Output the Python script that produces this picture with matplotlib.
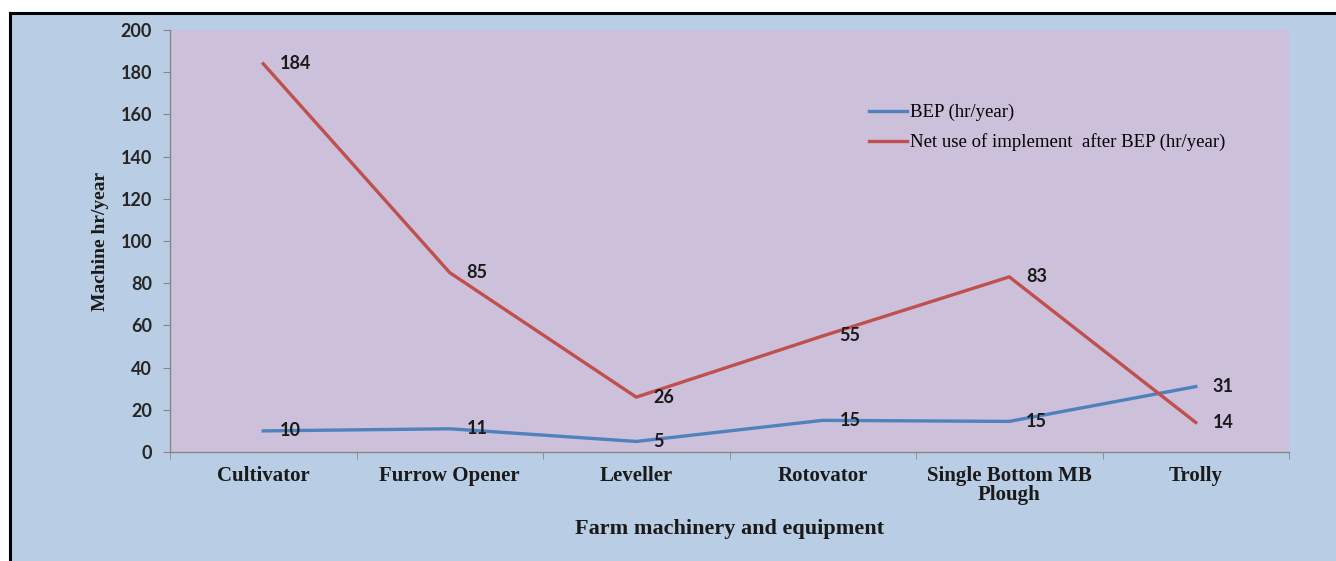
import matplotlib.pyplot as plt
from matplotlib.lines import Line2D
from matplotlib.patches import Rectangle

categories = ["Cultivator", "Furrow Opener", "Leveller", "Rotovator",
              "Single Bottom MB\nPlough", "Trolly"]
bep = [10, 11, 5, 15, 14.5, 31]
net_use = [184, 85, 26, 55, 83, 14]
bep_labels = ["10", "11", "5", "15", "15", "31"]
net_labels = ["184", "85", "26", "55", "83", "14"]

OUTER = "#b9cde5"
PLOT_BG = "#ccc0da"
BLUE = "#4f81bd"
RED = "#c0504d"

fig = plt.figure(figsize=(13.36, 5.61), dpi=100, facecolor="white")
# blue chart area with black frame on top and left
fig.patches.append(Rectangle((10 / 1336, 0), 1 - 10 / 1336, 1 - 13 / 561,
                             transform=fig.transFigure, facecolor=OUTER,
                             edgecolor="none", zorder=-10))
fig.lines.append(Line2D([10 / 1336, 1], [1 - 13 / 561, 1 - 13 / 561],
                        transform=fig.transFigure, color="black", lw=2.2,
                        zorder=-5))
fig.lines.append(Line2D([10 / 1336, 10 / 1336], [0, 1 - 13 / 561],
                        transform=fig.transFigure, color="black", lw=2.2,
                        zorder=-5))

ax = fig.add_axes([170 / 1336, 1 - 452 / 561, 1119 / 1336, 422 / 561])
ax.set_zorder(1)
ax.set_facecolor(PLOT_BG)

x = list(range(len(categories)))
ax.plot(x, bep, color=BLUE, lw=2.4, label="BEP (hr/year)")
ax.plot(x, net_use, color=RED, lw=2.4,
        label="Net use of implement  after BEP (hr/year)")

for xi, v, t in zip(x, bep, bep_labels):
    ax.annotate(t, (xi, v), xytext=(12, 0), textcoords="offset points",
                ha="left", va="center", fontsize=13, fontweight="bold",
                family="Lato", color="#1a1a1a")
for xi, v, t in zip(x, net_use, net_labels):
    ax.annotate(t, (xi, v), xytext=(12, 0), textcoords="offset points",
                ha="left", va="center", fontsize=13, fontweight="bold",
                family="Lato", color="#1a1a1a")

ax.set_xlim(-0.5, len(categories) - 0.5)
ax.set_ylim(0, 200)
ax.set_yticks(range(0, 201, 20))
ax.set_xticks(x)
ax.set_xticklabels(categories, family="Liberation Serif", fontweight="bold",
                   fontsize=15, color="#1a1a1a", linespacing=0.95)
ax.set_xticks([i - 0.5 for i in range(len(categories) + 1)], minor=True)
ax.tick_params(axis="x", which="major", length=0, pad=10)
ax.tick_params(axis="x", which="minor", length=5, color="#868686")
ax.tick_params(axis="y", length=5, color="#868686", pad=8)
for lab in ax.get_yticklabels():
    lab.set_family("Lato")
    lab.set_fontweight("bold")
    lab.set_fontsize(13)
    lab.set_color("#262626")

for s in ["top", "right"]:
    ax.spines[s].set_visible(False)
for s in ["left", "bottom"]:
    ax.spines[s].set_color("#868686")
    ax.spines[s].set_linewidth(1.0)

ax.set_xlabel("Farm machinery and equipment", family="Liberation Serif",
              fontweight="bold", fontsize=16, labelpad=10, color="#1a1a1a")
ax.set_ylabel("Machine hr/year", family="Liberation Serif",
              fontweight="bold", fontsize=14, labelpad=8, color="#1a1a1a")

leg = ax.legend(loc="upper left", bbox_to_anchor=(0.61, 0.865), frameon=False,
                prop={"family": "Liberation Serif", "size": 13.5},
                handlelength=2.0, handletextpad=0.15, labelspacing=0.65)

fig.savefig("out.png", dpi=100, facecolor=fig.get_facecolor())
